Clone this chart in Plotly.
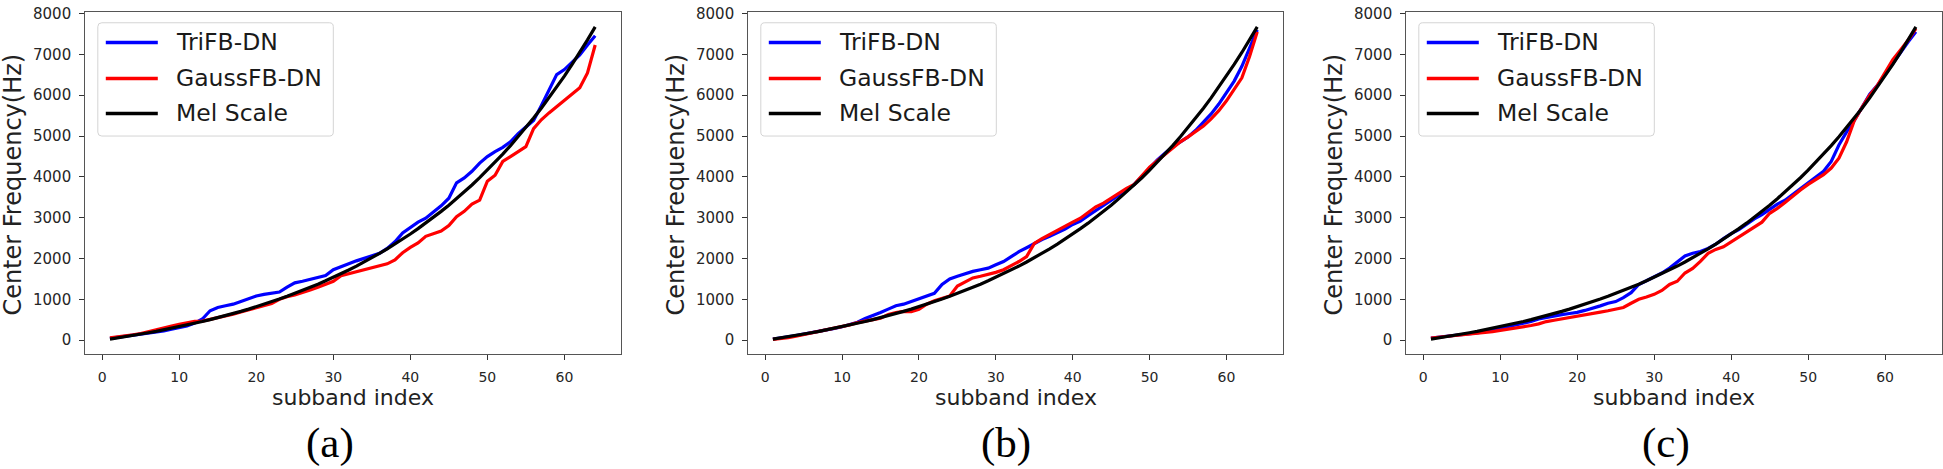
import plotly.graph_objects as go

# ---------------- data ----------------
subband = list(range(1, 65))

mel_scale = [28, 56, 86, 117, 150, 183, 218, 255, 292, 332,
             372, 415, 459, 505, 552, 602, 653, 707, 762, 820,
             880, 943, 1008, 1075, 1145, 1218, 1294, 1373, 1455, 1540,
             1629, 1721, 1816, 1916, 2019, 2127, 2239, 2355, 2476, 2601,
             2732, 2867, 3008, 3155, 3307, 3466, 3630, 3801, 3979, 4164,
             4357, 4557, 4764, 4981, 5205, 5439, 5681, 5933, 6196, 6468,
             6752, 7046, 7353, 7671]

tri_a = [45, 70, 95, 120, 145, 170, 198, 230, 268, 308,
         350, 420, 520, 722, 802, 843, 883, 947, 1020, 1084,
         1124, 1148, 1180, 1300, 1405, 1445, 1485, 1542, 1582, 1726,
         1806, 1870, 1943, 2007, 2071, 2128, 2248, 2409, 2626, 2770,
         2891, 2987, 3132, 3292, 3477, 3855, 3975, 4136, 4337, 4497,
         4618, 4722, 4859, 5060, 5220, 5381, 5742, 6144, 6505, 6626,
         6803, 6987, 7228, 7453]

gauss_a = [60, 80, 105, 135, 165, 205, 250, 300, 345, 390,
           430, 465, 470, 510, 550, 595, 640, 690, 740, 790,
           845, 900, 1004, 1068, 1108, 1164, 1228, 1300, 1365, 1445,
           1582, 1630, 1670, 1710, 1766, 1822, 1870, 1967, 2143, 2272,
           2384, 2545, 2609, 2674, 2810, 3027, 3156, 3333, 3429, 3895,
           4039, 4377, 4497, 4618, 4738, 5180, 5397, 5566, 5718, 5863,
           6023, 6184, 6546, 7228]

tri_b = [30, 55, 85, 115, 150, 180, 215, 250, 290, 330,
         385, 440, 530, 600, 680, 762, 843, 883, 948, 1004,
         1068, 1148, 1365, 1501, 1566, 1630, 1686, 1726, 1766, 1846,
         1927, 2047, 2168, 2264, 2369, 2465, 2545, 2626, 2722, 2835,
         2915, 3051, 3172, 3292, 3413, 3549, 3678, 3815, 4015, 4216,
         4417, 4578, 4738, 4859, 4979, 5140, 5341, 5542, 5783, 6064,
         6345, 6706, 7148, 7600]

gauss_b = [20, 40, 65, 100, 140, 175, 210, 245, 285, 330,
           377, 430, 470, 510, 540, 630, 680, 705, 700, 760,
           883, 964, 1020, 1084, 1325, 1421, 1525, 1566, 1606, 1662,
           1726, 1822, 1927, 2047, 2369, 2489, 2594, 2690, 2787, 2891,
           2987, 3132, 3268, 3356, 3477, 3597, 3718, 3815, 4039, 4240,
           4393, 4554, 4698, 4859, 4979, 5100, 5244, 5421, 5622, 5863,
           6144, 6425, 6947, 7550]

tri_c = [55, 75, 95, 115, 135, 155, 180, 216, 250, 280,
         330, 377, 420, 457, 521, 561, 595, 626, 655, 682,
         730, 778, 842, 906, 947, 1043, 1164, 1365, 1461, 1541,
         1646, 1766, 1927, 2063, 2130, 2170, 2248, 2352, 2489, 2610,
         2706, 2850, 2970, 3075, 3212, 3333, 3429, 3574, 3718, 3855,
         3991, 4136, 4377, 4779, 5100, 5381, 5702, 6023, 6240, 6506,
         6787, 7068, 7309, 7550]

gauss_c = [55, 75, 90, 105, 120, 140, 160, 184, 210, 240,
           268, 296, 330, 361, 401, 457, 490, 521, 550, 578,
           620, 658, 690, 722, 763, 803, 906, 1003, 1060, 1124,
           1220, 1365, 1445, 1646, 1760, 1930, 2128, 2224, 2288, 2409,
           2545, 2650, 2786, 2891, 3108, 3228, 3373, 3533, 3678, 3815,
           3935, 4055, 4216, 4457, 4859, 5381, 5702, 5999, 6240, 6546,
           6867, 7108, 7349, 7630]

series_names = ["TriFB-DN", "GaussFB-DN", "Mel Scale"]
series_colors = ["#0000ff", "#ff0000", "#000000"]
panel_labels = ["(a)", "(b)", "(c)"]
x_title = "subband index"
y_title = "Center Frequency(Hz)"
x_ticks = [0, 10, 20, 30, 40, 50, 60]
y_ticks = [0, 1000, 2000, 3000, 4000, 5000, 6000, 7000, 8000]

panels = [(tri_a, gauss_a), (tri_b, gauss_b), (tri_c, gauss_c)]

# ---------------- layout geometry (pixels) ----------------
W, H = 1943, 469
panel_px = [(85.3, 621.0), (748.3, 1283.0), (1406.3, 1941.7)]
top_px, bot_px = 5.3, 352.3
label_cx = [330, 1006, 1666]


def px(x):
    return x / W


def py(y):
    return 1 - y / H


FONT = "DejaVu Sans"
fig = go.Figure()
layout = dict(
    width=W, height=H,
    margin=dict(l=0, r=0, t=0, b=0),
    paper_bgcolor="white", plot_bgcolor="white",
    showlegend=False,
    font=dict(family=FONT, color="#222222"),
)

shapes = []
annotations = []

for k, (tri, gauss) in enumerate(panels):
    ax = "" if k == 0 else str(k + 1)
    xref, yref = "x" + ax, "y" + ax
    for vals, name, col in zip([tri, gauss, mel_scale], series_names, series_colors):
        fig.add_trace(go.Scatter(x=subband, y=vals, mode="lines", name=name,
                                 line=dict(color=col, width=3.2),
                                 xaxis=xref, yaxis=yref))
    L, R = panel_px[k]
    common = dict(showline=True, mirror=True, linecolor="#555555", linewidth=1.2,
                  showgrid=False, zeroline=False, ticks="outside", ticklen=5,
                  tickwidth=1, tickcolor="#333333", ticklabelstandoff=5,
                  ticklabeloverflow="allow")
    layout["xaxis" + ax] = dict(domain=[px(L), px(R)], range=[-2.2, 67.35],
                                tickvals=x_ticks, anchor=yref,
                                tickfont=dict(family=FONT, size=14, color="#262626"),
                                **common)
    layout["yaxis" + ax] = dict(domain=[py(bot_px), py(top_px)], range=[-338, 8031],
                                tickvals=y_ticks, anchor=xref,
                                tickfont=dict(family=FONT, size=15, color="#262626"),
                                **common)

    # axis titles
    annotations.append(dict(text=y_title, x=px(L - 72), y=py(180), xref="paper", yref="paper",
                            textangle=-90, showarrow=False, xanchor="center", yanchor="middle",
                            font=dict(family=FONT, size=24, color="#222222")))
    annotations.append(dict(text=x_title, x=px((L + R) / 2), y=py(396), xref="paper", yref="paper",
                            showarrow=False, xanchor="center", yanchor="middle",
                            font=dict(family=FONT, size=22, color="#222222")))
    annotations.append(dict(text=panel_labels[k], x=px(label_cx[k]), y=py(443), xref="paper",
                            yref="paper", showarrow=False, xanchor="center", yanchor="middle",
                            font=dict(family="Liberation Serif", size=43, color="#000000")))

    # legend box (rounded rectangle)
    x0, x1, y0, y1, r = L + 12.5, L + 248, 16, 131, 4
    pts = [("M", x0 + r, y0), ("L", x1 - r, y0), ("Q", x1, y0, x1, y0 + r),
           ("L", x1, y1 - r), ("Q", x1, y1, x1 - r, y1), ("L", x0 + r, y1),
           ("Q", x0, y1, x0, y1 - r), ("L", x0, y0 + r), ("Q", x0, y0, x0 + r, y0)]
    path = ""
    for p in pts:
        cmd = p[0]
        coords = p[1:]
        s = " ".join(f"{px(coords[i]):.6f},{py(coords[i + 1]):.6f}" for i in range(0, len(coords), 2))
        path += f"{cmd}{s} "
    path += "Z"
    shapes.append(dict(type="path", path=path, xref="paper", yref="paper",
                       fillcolor="rgba(255,255,255,0.85)", line=dict(color="#d4d4d4", width=1)))
    rows = [36, 72.5, 108]
    for name, col, ry in zip(series_names, series_colors, rows):
        shapes.append(dict(type="line", xref="paper", yref="paper",
                           x0=px(L + 20.5), x1=px(L + 72.5), y0=py(ry), y1=py(ry),
                           line=dict(color=col, width=3.5)))
        annotations.append(dict(text=name, x=px(L + 89), y=py(ry), xref="paper", yref="paper",
                                showarrow=False, xanchor="left", yanchor="middle",
                                font=dict(family=FONT, size=23.5, color="#1a1a1a")))

layout["shapes"] = shapes
layout["annotations"] = annotations
fig.update_layout(**layout)
# remove the browser's default 8px body margin so the figure sits at the window origin
fig.write_html("out.html", config={"displayModeBar": False},
               post_script="document.body.style.margin='0px';")
